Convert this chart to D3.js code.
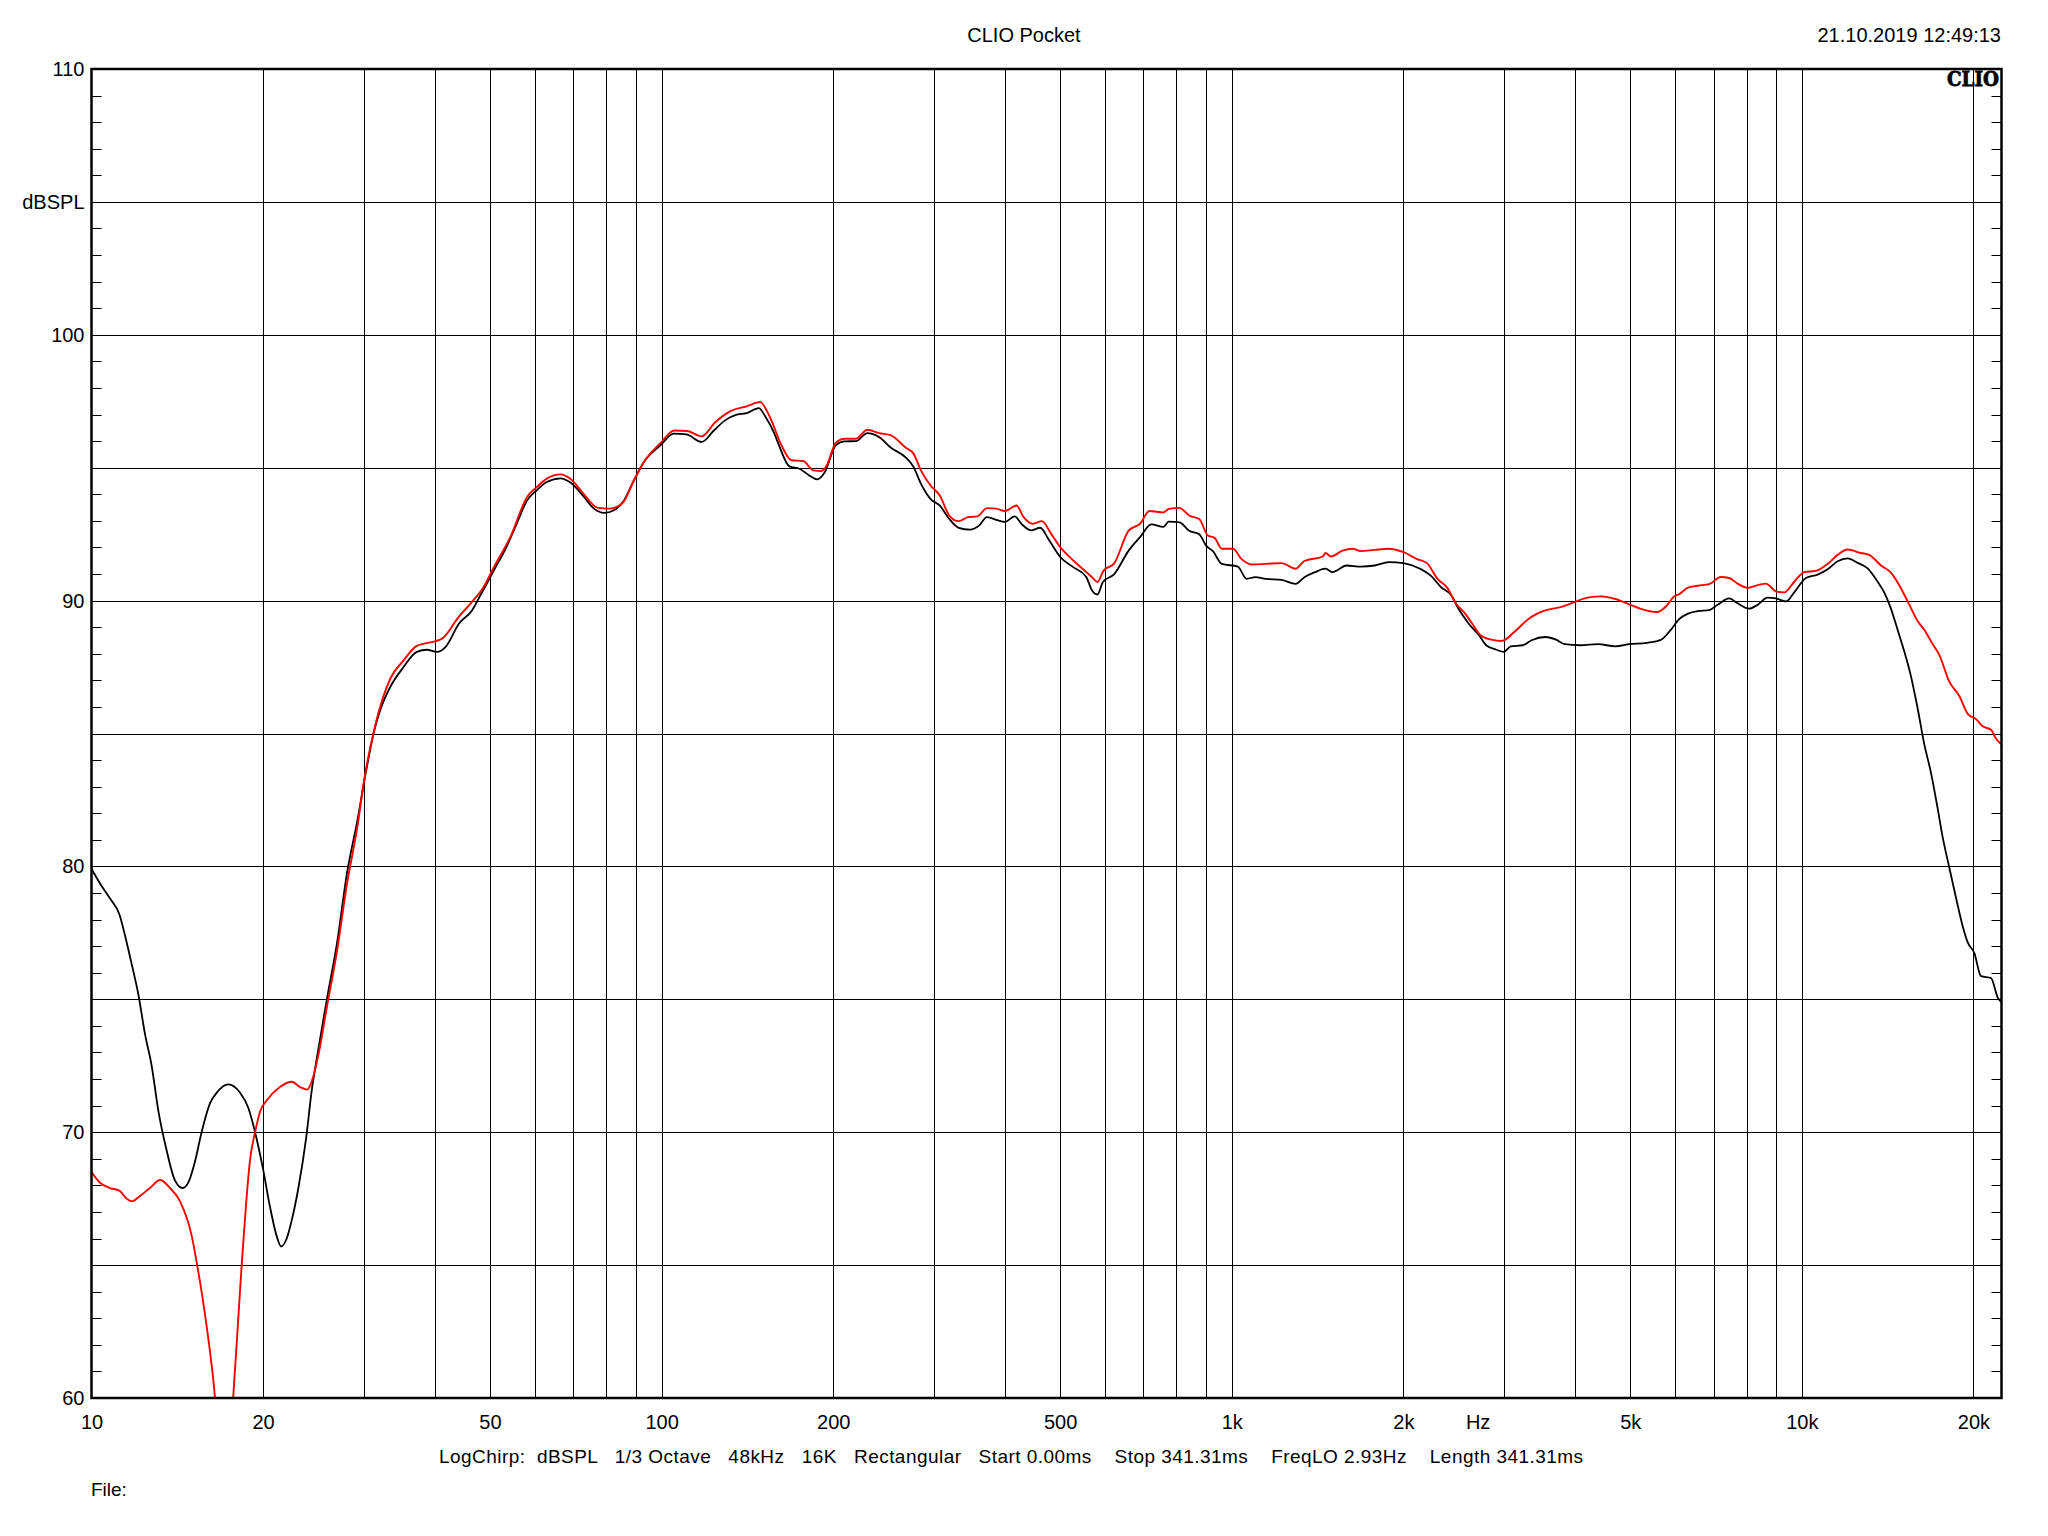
<!DOCTYPE html>
<html><head><meta charset="utf-8">
<script src="https://cdn.jsdelivr.net/npm/d3@7"></script>
<style>
body{margin:0;background:#fff}
svg{display:block}
text{font-family:"Liberation Sans",Arial,sans-serif;fill:#000}
</style>
</head><body>
<svg id="chart" width="2048" height="1536"></svg>
<script>
// ---------------- data ----------------
const titleText = "CLIO Pocket";
const dateText = "21.10.2019 12:49:13";
const logoText = "CLIO";
const infoText = "LogChirp:  dBSPL   1/3 Octave   48kHz   16K   Rectangular   Start 0.00ms    Stop 341.31ms    FreqLO 2.93Hz    Length 341.31ms";
const fileText = "File:";

const xDomain = [10, 22400];
const yDomain = [60, 110];

const xLabelValues = [10, 20, 50, 100, 200, 500, 1000, 2000, 2700, 5000, 10000, 20000];
const xLabelTexts  = ["10","20","50","100","200","500","1k","2k","Hz","5k","10k","20k"];
const xGridValues = [20,30,40,50,60,70,80,90,100,200,300,400,500,600,700,800,900,
                     1000,2000,3000,4000,5000,6000,7000,8000,9000,10000,20000];
const yGridValues = [65,70,75,80,85,90,95,100,105];
const yLabelValues = [60,70,80,90,100,105,110];
const yLabelTexts  = ["60","70","80","90","100","dBSPL","110"];
const yMinorValues = d3.range(61,110).filter(v => v % 5 !== 0);

const blackCurve = [[10,79.9],[10.35,79.36],[10.77,78.8],[11.19,78.2],[11.48,77.3],[11.77,76.3],[12.08,75.2],[12.41,73.7],[12.75,72.5],[13.1,70.8],[13.55,69.3],[14.0,68.2],[14.45,67.9],[14.78,68.1],[15.19,68.9],[15.6,70.0],[16.15,71.1],[16.6,71.5],[17.37,71.8],[18.2,71.5],[18.85,70.9],[19.36,70.0],[20.0,68.6],[20.56,67.2],[21.12,66.1],[21.5,65.7],[22.0,66.0],[22.46,66.7],[23.06,67.9],[23.8,69.8],[24.35,71.6],[24.85,72.8],[25.87,75.0],[26.95,77.1],[28.04,79.7],[29.37,81.9],[30,83.05],[31.45,85.25],[32.08,85.87],[33.42,86.75],[35.27,87.5],[37.2,88.07],[38.77,88.15],[40.4,88.07],[41.76,88.25],[44.1,89.13],[46.5,89.63],[48.1,90.2],[50.8,91.14],[53.4,92.0],[55.7,92.9],[58.1,93.77],[60.4,94.15],[62.9,94.46],[66.5,94.6],[69.0,94.46],[73.1,93.9],[76.1,93.46],[79.3,93.3],[82.5,93.4],[85.9,93.77],[89.4,94.52],[93.0,95.2],[99.5,95.84],[105.0,96.28],[110.5,96.25],[117.6,95.97],[123.5,96.4],[129.2,96.78],[135.5,97.0],[141.0,97.05],[148.0,97.24],[152.3,96.9],[157.7,96.28],[159.8,95.97],[167.6,95.05],[174.5,94.96],[181.5,94.71],[187.4,94.56],[193.4,94.84],[202,95.84],[209.3,95.99],[219.2,96.0],[229.6,96.3],[240.8,96.15],[252.5,95.75],[268.2,95.38],[276.6,95.03],[285,94.4],[296.1,93.83],[307.4,93.58],[319.4,93.08],[331.9,92.74],[347.6,92.67],[360.8,92.83],[372,93.14],[386.3,93.04],[400,92.96],[416.2,93.17],[428.5,92.87],[444.6,92.64],[461.3,92.74],[478.4,92.27],[500.3,91.64],[527.2,91.26],[555.8,90.89],[568.5,90.39],[581.4,90.23],[594.4,90.7],[621.6,90.99],[660,91.89],[690.6,92.39],[722.7,92.87],[759,92.77],[775.5,92.97],[810,92.94],[842,92.63],[877,92.5],[902,92.07],[927,91.86],[961,91.38],[1025,91.28],[1062,90.82],[1100,90.88],[1147,90.82],[1223,90.78],[1295,90.63],[1341,90.88],[1400,91.07],[1461,91.2],[1503,91.07],[1591,91.32],[1684,91.28],[1782,91.32],[1886,91.45],[2002,91.41],[2140,91.2],[2232,90.95],[2328,90.51],[2428,90.2],[2498,89.7],[2605,89.13],[2717,88.69],[2795,88.32],[2915,88.15],[3000,88.07],[3086,88.28],[3241,88.32],[3357,88.51],[3552,88.63],[3706,88.53],[3838,88.36],[4090,88.32],[4390,88.36],[4710,88.28],[4982,88.36],[5350,88.41],[5659,88.52],[5891,88.9],[6092,89.3],[6301,89.5],[6565,89.6],[6880,89.64],[7115,89.84],[7457,90.08],[7714,89.9],[8082,89.7],[8363,89.84],[8710,90.11],[9006,90.08],[9378,89.97],[9698,90.31],[10167,90.85],[10659,90.98],[11099,91.18],[11556,91.48],[12034,91.59],[12530,91.42],[13047,91.21],[13583,90.71],[13948,90.31],[14332,89.7],[14725,88.9],[15124,88.09],[15541,87.15],[15966,85.94],[16398,84.6],[16849,83.52],[17309,82.18],[17662,81.1],[18140,79.96],[18640,78.82],[19150,77.75],[19543,77.14],[20071,76.74],[20624,75.87],[21474,75.8],[22067,75.06],[22400,74.9]];

const redCurve = [[10,68.5],[10.35,68.1],[10.77,67.9],[11.19,67.8],[11.53,67.5],[11.77,67.4],[12.16,67.6],[12.66,67.9],[13.2,68.2],[13.73,67.9],[14.3,67.4],[14.99,66.1],[15.38,64.8],[15.92,62.7],[16.47,60],[16.8,57.5],[17.1,56],[17.45,57.5],[17.72,60],[17.97,62.0],[18.34,65.0],[18.67,67.3],[18.98,69.0],[19.36,70.0],[19.77,70.8],[20.3,71.2],[21.4,71.7],[22.46,71.9],[23.2,71.7],[23.9,71.6],[24.5,72.1],[25.0,72.9],[25.87,74.7],[26.95,76.8],[28.04,79.3],[29.37,81.7],[30,83.1],[31.45,85.3],[33.42,87.06],[35.27,87.75],[37.2,88.3],[38.77,88.4],[41.2,88.57],[44.1,89.4],[46.5,89.95],[48.7,90.5],[50.8,91.26],[54.3,92.4],[58.1,93.9],[60.4,94.27],[62.9,94.59],[66.5,94.75],[69.0,94.6],[73.1,94.0],[77.1,93.5],[81.1,93.46],[85.4,93.67],[89.4,94.52],[93.0,95.2],[100,95.97],[105.2,96.4],[110.9,96.38],[117.5,96.18],[124.3,96.72],[132.1,97.13],[140.9,97.31],[148.9,97.47],[154.9,96.9],[162.3,95.84],[168.9,95.28],[177.2,95.25],[184.5,94.9],[190.4,94.87],[194.9,95.09],[202,95.93],[209.3,96.09],[219.2,96.09],[229.6,96.43],[240.8,96.3],[252.5,96.22],[268.2,95.75],[276.6,95.53],[285,94.9],[296.1,94.34],[307.4,93.96],[319.4,93.21],[331.9,92.99],[344.8,93.14],[358.1,93.17],[372,93.48],[386.3,93.46],[400,93.37],[419.3,93.58],[431.6,93.14],[447.9,92.89],[464.7,92.99],[482,92.52],[500.3,92.01],[523.2,91.58],[547.4,91.2],[568.5,90.89],[581.4,90.7],[596.3,91.14],[621.6,91.39],[660,92.64],[690.6,92.89],[717.3,93.37],[759,93.32],[775.5,93.45],[810,93.49],[842,93.2],[877,93.07],[908,92.45],[933,92.36],[961,91.95],[1005,91.95],[1040,91.57],[1085,91.36],[1147,91.38],[1223,91.41],[1295,91.2],[1341,91.49],[1444,91.66],[1461,91.79],[1492,91.66],[1565,91.88],[1628,91.95],[1684,91.86],[1782,91.91],[1886,91.95],[2002,91.82],[2110,91.57],[2200,91.41],[2296,90.82],[2394,90.45],[2462,89.95],[2568,89.51],[2642,89.13],[2735,88.69],[2855,88.53],[2978,88.48],[3130,88.82],[3320,89.32],[3527,89.61],[3812,89.78],[4000,89.95],[4207,90.11],[4452,90.16],[4710,90.06],[4982,89.86],[5203,89.7],[5577,89.57],[5775,89.78],[5978,90.16],[6092,90.24],[6301,90.48],[6565,90.56],[6880,90.62],[7211,90.89],[7457,90.85],[7714,90.64],[8030,90.48],[8363,90.58],[8650,90.64],[9006,90.35],[9313,90.31],[9698,90.71],[10097,91.07],[10586,91.12],[11099,91.38],[11556,91.72],[12034,91.92],[12699,91.79],[13130,91.72],[13770,91.32],[14332,91.05],[14821,90.58],[15335,89.97],[15966,89.23],[16398,88.9],[16966,88.36],[17420,87.96],[18140,86.95],[18891,86.41],[19543,85.74],[20210,85.54],[20765,85.27],[21474,85.14],[21914,84.8],[22363,84.6]];

// ---------------- layout ----------------
const X0 = 91.5, X1 = 2001.5, Y0 = 69, Y1 = 1398;
const svg = d3.select("#chart");
svg.append("rect").attr("width",2048).attr("height",1536).attr("fill","#fff");

const x = d3.scaleLog().domain(xDomain).range([X0, X1]);
const y = d3.scaleLinear().domain(yDomain).range([Y1, Y0]);
const px = v => Math.round(v) + 0.5;

// grid via axes
const gx = svg.append("g").attr("transform",`translate(0,${Y1})`)
  .call(d3.axisBottom(x).tickValues(xGridValues).tickSize(-(Y1-Y0)).tickFormat(""));
gx.select(".domain").remove();
gx.selectAll(".tick").attr("transform", d => `translate(${px(x(d))},0)`);
gx.selectAll("line").attr("stroke","#000").attr("stroke-width",1);

const gy = svg.append("g").attr("transform",`translate(${X0},0)`)
  .call(d3.axisLeft(y).tickValues(yGridValues).tickSize(-(X1-X0)).tickFormat(""));
gy.select(".domain").remove();
gy.selectAll(".tick").attr("transform", d => `translate(0,${px(y(d))})`);
gy.selectAll("line").attr("stroke","#000").attr("stroke-width",1);

// minor ticks left & right (inward)
const gmL = svg.append("g").attr("transform",`translate(${X0},0)`)
  .call(d3.axisRight(y).tickValues(yMinorValues).tickSize(10).tickFormat(""));
gmL.select(".domain").remove();
gmL.selectAll(".tick").attr("transform", d => `translate(0,${px(y(d))})`);
gmL.selectAll("line").attr("stroke","#000").attr("stroke-width",1);
const gmR = svg.append("g").attr("transform",`translate(${X1},0)`)
  .call(d3.axisLeft(y).tickValues(yMinorValues).tickSize(10).tickFormat(""));
gmR.select(".domain").remove();
gmR.selectAll(".tick").attr("transform", d => `translate(0,${px(y(d))})`);
gmR.selectAll("line").attr("stroke","#000").attr("stroke-width",1);

// curves
svg.append("clipPath").attr("id","plotclip").append("rect")
  .attr("x",X0).attr("y",Y0).attr("width",X1-X0).attr("height",Y1-Y0);
const line = d3.line().x(d => x(d[0])).y(d => y(d[1])).curve(d3.curveMonotoneX);
const curves = svg.append("g").attr("clip-path","url(#plotclip)");
curves.append("path").datum(blackCurve).attr("d",line)
  .attr("fill","none").attr("stroke","#000").attr("stroke-width",1.8).attr("stroke-linejoin","round");
curves.append("path").datum(redCurve).attr("d",line)
  .attr("fill","none").attr("stroke","#ff0000").attr("stroke-width",1.9).attr("stroke-linejoin","round");

// frame
svg.append("rect").attr("x",X0).attr("y",Y0).attr("width",X1-X0).attr("height",Y1-Y0)
  .attr("fill","none").attr("stroke","#000").attr("stroke-width",2.5);

// axis labels via axes
const lx = svg.append("g").attr("transform",`translate(0,${Y1})`)
  .call(d3.axisBottom(x).tickValues(xLabelValues).tickSize(0).tickPadding(17)
        .tickFormat((d,i) => xLabelTexts[i]));
lx.select(".domain").remove();
lx.selectAll("text").attr("font-size",20).attr("font-family",'"Liberation Sans",Arial,sans-serif').attr("fill","#000");

const ly = svg.append("g").attr("transform",`translate(${X0},0)`)
  .call(d3.axisLeft(y).tickValues(yLabelValues).tickSize(0).tickPadding(7)
        .tickFormat((d,i) => yLabelTexts[i]));
ly.select(".domain").remove();
ly.selectAll("text").attr("font-size",20).attr("font-family",'"Liberation Sans",Arial,sans-serif').attr("fill","#000");

// texts
svg.append("text").attr("x",1024).attr("y",42).attr("text-anchor","middle")
  .attr("font-size",20).text(titleText);
svg.append("text").attr("x",2001).attr("y",42).attr("text-anchor","end")
  .attr("font-size",20).text(dateText);
svg.append("text").attr("x",1999).attr("y",86).attr("text-anchor","end")
  .attr("font-size",21).attr("font-weight","900")
  .attr("stroke","#000").attr("stroke-width",0.8)
  .style("font-family",'"DejaVu Serif","Liberation Serif",serif')
  .attr("textLength",52).attr("lengthAdjust","spacingAndGlyphs").text(logoText);
svg.append("text").attr("x",439).attr("y",1463).attr("font-size",19)
  .attr("textLength",1144).attr("lengthAdjust","spacing")
  .style("white-space","pre").attr("xml:space","preserve").text(infoText);
svg.append("text").attr("x",91).attr("y",1496).attr("font-size",19).text(fileText);
</script>
</body></html>
